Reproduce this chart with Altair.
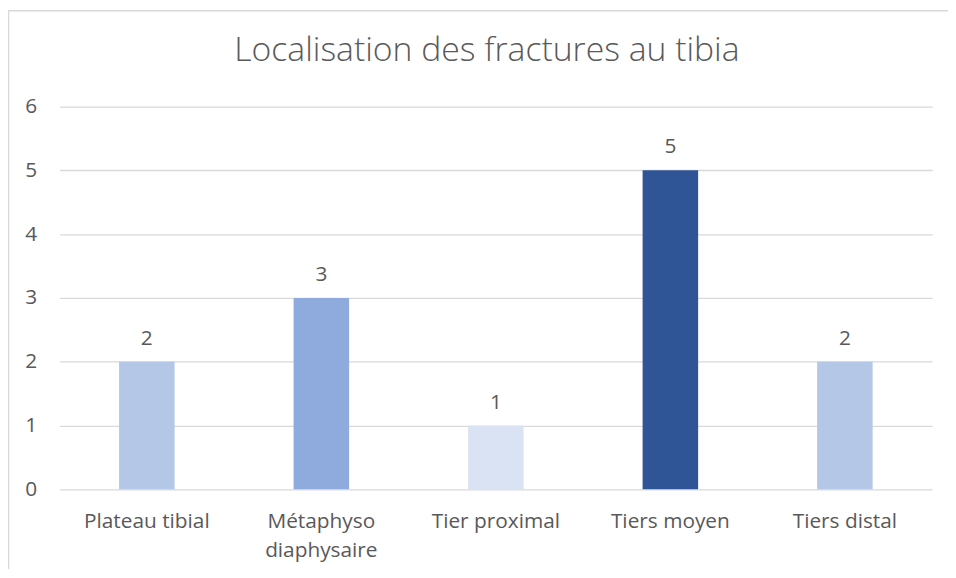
import altair as alt
import pandas as pd

categories = ["Plateau tibial", "Métaphyso diaphysaire", "Tier proximal", "Tiers moyen", "Tiers distal"]
values = [2, 3, 1, 5, 2]
bar_colors = ["#B4C7E7", "#8FAADC", "#DAE3F3", "#2F5597", "#B4C7E7"]
y_ticks = [0, 1, 2, 3, 4, 5, 6]
title_text = "Localisation des fractures au tibia"

FONT = "Open Sans"
TXT = "#595959"
GRID = "#D9D9D9"

df = pd.DataFrame({"cat": categories, "val": values})

W, H = 880, 386

x_enc = alt.X("cat:N", sort=categories,
              scale=alt.Scale(paddingInner=0, paddingOuter=0),
              axis=alt.Axis(title=None, labelAngle=0, domain=False, ticks=False,
                            labelPadding=22, labelFontSize=21, labelColor=TXT,
                            labelFont=FONT, labelLineHeight=29,
                            labelExpr="datum.label == 'Métaphyso diaphysaire' ? ['Métaphyso', 'diaphysaire'] : datum.label"))
y_enc = alt.Y("val:Q", scale=alt.Scale(domain=[0, 6], nice=False),
              axis=alt.Axis(title=None, values=y_ticks, format="d", domain=False, ticks=False,
                            grid=True, gridColor=GRID, gridWidth=1.3,
                            labelPadding=23, labelFontSize=21, labelColor=TXT,
                            labelFont=FONT))

bars = alt.Chart(df).mark_bar(size=56).encode(
    x=x_enc, y=y_enc,
    color=alt.Color("cat:N", scale=alt.Scale(domain=categories, range=bar_colors), legend=None),
)

labels = alt.Chart(df).mark_text(baseline="alphabetic", dy=-17, fontSize=21,
                                 font=FONT, color=TXT).encode(
    x=alt.X("cat:N", sort=categories), y="val:Q", text="val:Q")

one = pd.DataFrame({"a": [0]})
left_border = alt.Chart(one).mark_rule(color=GRID, strokeWidth=1.5).encode(
    x=alt.value(-51.5), y=alt.value(-97), y2=alt.value(H + 90))
top_border = alt.Chart(one).mark_rule(color=GRID, strokeWidth=1.5).encode(
    x=alt.value(-52), x2=alt.value(W + 20), y=alt.value(-96.5))

chart = alt.layer(left_border, top_border, bars, labels).properties(
    width=W, height=H,
    title=alt.TitleParams(title_text, font=FONT, fontSize=34, fontWeight=300,
                          color=TXT, anchor="middle", baseline="alphabetic",
                          offset=-86, dx=-9),
    padding={"left": 52, "top": 97, "right": 16, "bottom": 78},
    autosize=alt.AutoSizeParams(type="none"),
    background="white",
).configure_view(strokeWidth=0)

chart.save("out.html", embed_options={"renderer": "svg", "actions": False})
